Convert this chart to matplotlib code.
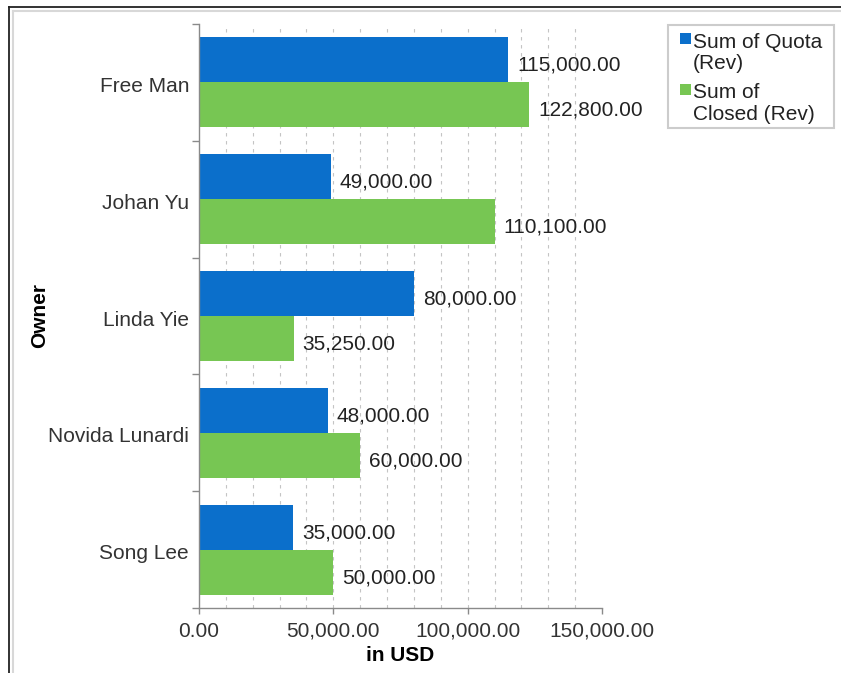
import numpy as np
import matplotlib
matplotlib.use("Agg")
import matplotlib.pyplot as plt
from matplotlib.lines import Line2D
from matplotlib.patches import Rectangle
from matplotlib.ticker import FixedLocator, FuncFormatter
import matplotlib.transforms as mtransforms

# ---- data ----
owners = ["Free Man", "Johan Yu", "Linda Yie", "Novida Lunardi", "Song Lee"]
quota = [115000, 49000, 80000, 48000, 35000]
closed = [122800, 110100, 35250, 60000, 50000]
series_names = ["Sum of Quota\n(Rev)", "Sum of\nClosed (Rev)"]
x_ticks = [0, 50000, 100000, 150000]
x_label = "in USD"
y_label = "Owner"

BLUE = "#0b6fcb"
GREEN = "#77c653"
AXIS_GRAY = "#8a8a8a"
TEXT = "#222222"
FS = 15

plt.rcParams["font.family"] = ["Liberation Sans", "DejaVu Sans"]

W, H = 841, 673
fig = plt.figure(figsize=(W / 100, H / 100), dpi=100)
fig.patch.set_facecolor("white")

# pixel coordinates measured from the top-left corner of the figure
px = mtransforms.Affine2D().scale(1 / W, -1 / H).translate(0, 1) + fig.transFigure

ax = fig.add_axes([199 / W, 65 / H, 403 / W, 584 / H])

y = np.arange(len(owners))
h = 0.385
b1 = ax.barh(y - h / 2, quota, height=h, color=BLUE, zorder=2)
b2 = ax.barh(y + h / 2, closed, height=h, color=GREEN, zorder=2)

# value labels to the right of each bar
for bars, vals in ((b1, quota), (b2, closed)):
    for rect, v in zip(bars, vals):
        ax.annotate(f"{v:,.2f}",
                    xy=(v, rect.get_y() + rect.get_height() / 2),
                    xytext=(9, -11), textcoords="offset pixels",
                    ha="left", va="baseline", fontsize=FS, color=TEXT,
                    zorder=3)

ax.set_xlim(0, 150000)
ax.set_ylim(len(owners) - 0.5, -0.5)

# x axis
ax.xaxis.set_major_locator(FixedLocator(x_ticks))
ax.xaxis.set_major_formatter(FuncFormatter(lambda v, p: f"{v:,.2f}"))
ax.tick_params(axis="x", which="major", direction="out", length=4.3,
               width=1, color=AXIS_GRAY, labelsize=FS, labelcolor="#333333",
               pad=5.7)

# dotted vertical grid every 10,000
ax.xaxis.set_minor_locator(FixedLocator(np.arange(10000, 150000, 10000)))
ax.xaxis.remove_overlapping_locs = False
ax.tick_params(axis="x", which="minor", length=0)
ax.grid(False)
ax.grid(True, which="minor", axis="x", color="#c4c4c4", linewidth=0.8,
        linestyle=(0, (3.1, 4.1)))
ax.set_axisbelow(True)

# y axis: ticks on category boundaries, labels at centres
ax.set_yticks(np.arange(-0.5, len(owners), 1.0))
ax.set_yticklabels([])
ax.tick_params(axis="y", which="major", direction="out", length=5,
               width=1, color=AXIS_GRAY)
ax.set_yticks(y, labels=owners, minor=True)
ax.tick_params(axis="y", which="minor", length=0, labelsize=FS,
               labelcolor="#333333", pad=7.2)
shift_down = mtransforms.Affine2D().translate(0, -2)
for lab in ax.get_yticklabels(minor=True):
    lab.set_transform(lab.get_transform() + shift_down)

for s in ("top", "right"):
    ax.spines[s].set_visible(False)
for s in ("left", "bottom"):
    ax.spines[s].set_color(AXIS_GRAY)
    ax.spines[s].set_linewidth(1)

ax.set_xlabel(x_label, fontsize=FS, fontweight="bold", color="black",
              labelpad=4)
ax.set_ylabel(y_label, fontsize=FS, fontweight="bold", color="black")
ax.yaxis.set_label_coords(-0.372, 0.5)

# legend box with squares aligned to the first line of each label
fig.add_artist(Rectangle((668, 25), 166, 103, transform=px,
                         facecolor="white", edgecolor="#cccccc",
                         linewidth=1.5))
entry_top = [33, 84]
for top, col, name in zip(entry_top, (BLUE, GREEN), series_names):
    fig.add_artist(Rectangle((680, top), 11, 11, transform=px,
                             facecolor=col, edgecolor="none"))
    for i, line in enumerate(name.split("\n")):
        fig.text(693, top + 14.5 + 21.5 * i, line, transform=px,
                 fontsize=FS, color=TEXT, ha="left", va="baseline")

# panel frame
fig.add_artist(Line2D([9, W], [6.5, 6.5], transform=px, color="#222222",
                      linewidth=1.3))
fig.add_artist(Line2D([9, 9], [6.5, H], transform=px, color="#222222",
                      linewidth=1.3))
fig.add_artist(Line2D([13, W], [11, 11], transform=px, color="#d8d8d8",
                      linewidth=1.5))
fig.add_artist(Line2D([13, 13], [11, H], transform=px, color="#d8d8d8",
                      linewidth=1.5))

fig.savefig("out.png", dpi=100, facecolor="white")
